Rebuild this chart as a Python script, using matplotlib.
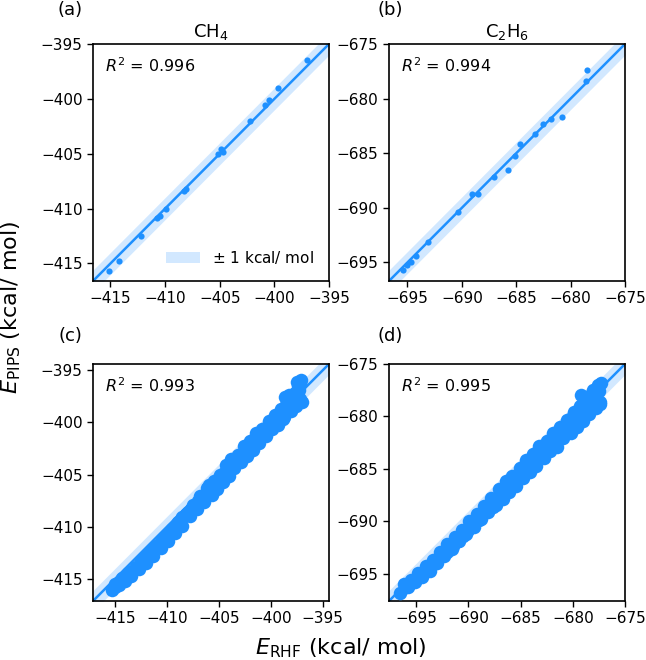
import matplotlib
matplotlib.use("Agg")
import matplotlib.pyplot as plt
import numpy as np
from matplotlib.patches import Patch

# ---------------- data ----------------
# (a) CH4 test set
ch4_rhf = [-415.1, -414.2, -412.2, -410.7, -410.5, -409.9, -408.3, -408.1, -405.2,
           -404.9, -404.7, -402.2, -400.9, -400.5, -399.7, -397.0]
ch4_pips = [-415.7, -414.8, -412.5, -410.9, -410.7, -410.0, -408.4, -408.2, -405.0,
            -404.6, -404.8, -402.0, -400.6, -400.1, -399.0, -396.5]

# (b) C2H6 test set
c2h6_rhf = [-695.4, -695.0, -694.7, -694.2, -693.1, -690.4, -689.1, -688.5, -687.0,
            -685.8, -685.1, -684.7, -683.3, -682.5, -681.8, -680.8, -678.6, -678.5]
c2h6_pips = [-695.7, -695.2, -695.0, -694.4, -693.1, -690.4, -688.7, -688.7, -687.2,
             -686.5, -685.3, -684.2, -683.2, -682.3, -681.9, -681.7, -678.4, -677.4]

# (c) CH4 full trajectory (dense cloud)
ch4_traj_rhf = [-415.3, -415.0, -414.6, -414.3, -414.0, -413.7, -413.4, -413.0, -412.7, -412.4,
                -412.0, -411.7, -411.3, -411.0, -410.6, -410.3, -409.9, -409.6, -409.2, -408.9,
                -408.5, -408.2, -407.8, -407.5, -407.1, -406.8, -406.4, -406.1, -405.7, -405.5,
                -405.2, -404.9, -404.6, -404.3, -404.0, -403.8, -403.5, -403.2, -402.9, -402.6,
                -402.3, -402.0, -401.7, -401.4, -401.1, -400.8, -400.5, -400.2, -399.9, -399.6,
                -399.3, -399.0, -398.7, -398.4, -398.1, -397.8, -397.6, -397.4, -397.2, -397.1,
                -397.3, -397.0, -405.9, -405.0, -404.1, -403.3, -402.4, -401.5, -400.7, -399.8,
                -399.0, -398.2, -397.7, -397.5, -406.8, -407.7, -408.6, -403.0, -400.3, -398.6,
                -415.0, -414.5, -414.0, -413.5, -413.0, -412.5, -412.0, -411.5, -411.0, -410.5,
                -410.0, -409.5, -409.0, -408.5, -408.0, -407.5, -407.0, -406.5, -406.0, -405.5,
                -405.0, -404.5, -404.0, -403.5, -403.0, -402.5, -402.0, -401.5, -401.0, -400.5,
                -400.0, -399.5, -399.0, -398.5, -398.0, -397.5, -397.2, -397.6, -398.2, -398.8]
ch4_traj_pips = [-416.0, -415.5, -415.6, -414.9, -415.2, -414.4, -414.7, -413.9, -414.0, -413.2,
                 -413.5, -412.6, -412.8, -411.9, -412.0, -411.2, -411.4, -410.4, -410.6, -409.5,
                 -409.9, -408.8, -409.0, -407.9, -408.3, -407.2, -407.6, -406.3, -406.9, -405.6,
                 -406.4, -405.0, -405.7, -404.1, -405.1, -403.5, -404.4, -403.1, -403.8, -402.3,
                 -403.2, -401.8, -402.6, -401.0, -402.0, -400.6, -401.3, -399.9, -400.6, -399.3,
                 -400.2, -398.7, -399.5, -398.1, -398.9, -397.3, -398.4, -396.5, -397.8, -395.9,
                 -396.9, -398.0, -406.0, -405.3, -404.6, -403.6, -402.9, -401.9, -401.0, -400.0,
                 -399.3, -398.5, -397.2, -396.1, -407.0, -408.3, -409.2, -403.4, -400.4, -397.6,
                 -415.8, -415.3, -414.8, -414.3, -413.8, -413.3, -412.8, -412.3, -411.8, -411.3,
                 -410.8, -410.2, -409.7, -409.1, -408.6, -408.1, -407.5, -407.0, -406.4, -405.9,
                 -405.4, -404.8, -404.3, -403.8, -403.2, -402.7, -402.2, -401.6, -401.1, -400.5,
                 -400.0, -399.4, -398.9, -398.3, -397.8, -397.2, -396.3, -397.8, -397.4, -399.7]

# (d) C2H6 full trajectory (dense cloud)
c2h6_traj_rhf = [-696.5, -696.2, -695.8, -695.5, -695.1, -694.8, -694.4, -694.1, -693.7, -693.4,
                 -693.0, -692.7, -692.3, -692.0, -691.6, -691.3, -690.9, -690.6, -690.2, -689.9,
                 -689.5, -689.2, -688.8, -688.5, -688.1, -687.8, -687.4, -687.1, -686.7, -686.4,
                 -686.1, -685.8, -685.4, -685.1, -684.8, -684.5, -684.1, -683.8, -683.5, -683.2,
                 -682.8, -682.5, -682.2, -681.9, -681.5, -681.2, -680.9, -680.6, -680.2, -679.9,
                 -679.6, -679.3, -679.0, -678.7, -678.4, -678.1, -677.8, -677.6, -677.4, -677.3,
                 -677.5, -677.4, -686.0, -685.2, -684.4, -683.6, -682.8, -682.0, -681.2, -680.4,
                 -679.6, -678.8, -678.2, -677.9, -687.6, -689.0, -690.5, -683.0, -680.8, -679.2,
                 -696.0, -695.5, -695.0, -694.5, -694.0, -693.5, -693.0, -692.5, -692.0, -691.5,
                 -691.0, -690.5, -690.0, -689.5, -689.0, -688.5, -688.0, -687.5, -687.0, -686.5,
                 -686.0, -685.5, -685.0, -684.5, -684.0, -683.5, -683.0, -682.5, -682.0, -681.5,
                 -681.0, -680.5, -680.0, -679.5, -679.0, -678.5, -678.0, -677.6, -677.8, -678.3,
                 -679.3]
c2h6_traj_pips = [-696.8, -696.0, -696.3, -695.6, -695.8, -694.9, -695.3, -694.3, -694.7, -693.7,
                  -694.0, -692.9, -693.3, -692.2, -692.6, -691.5, -691.9, -690.8, -691.2, -690.0,
                  -690.5, -689.3, -689.8, -688.5, -689.1, -687.8, -688.4, -686.9, -687.9, -686.2,
                  -687.2, -685.7, -686.6, -684.9, -685.9, -684.2, -685.3, -683.6, -684.7, -682.8,
                  -684.0, -682.3, -683.3, -681.6, -682.9, -681.0, -682.1, -680.3, -681.6, -679.6,
                  -681.0, -679.0, -680.4, -678.2, -679.8, -677.5, -679.2, -677.0, -678.6, -676.8,
                  -677.6, -678.8, -686.8, -685.8, -685.1, -684.2, -683.4, -682.6, -681.7, -681.1,
                  -680.2, -679.2, -677.8, -678.1, -688.6, -689.9, -691.4, -683.8, -680.9, -678.0,
                  -696.3, -695.9, -695.5, -695.1, -694.7, -694.2, -693.8, -693.3, -692.9, -692.4,
                  -691.9, -691.3, -690.8, -690.3, -689.8, -689.2, -688.7, -688.2, -687.7, -687.2,
                  -686.7, -686.1, -685.6, -685.0, -684.5, -683.9, -683.4, -682.8, -682.3, -681.8,
                  -681.1, -680.6, -680.0, -679.5, -678.9, -678.3, -677.7, -677.2, -678.7, -679.3,
                  -680.3]

r2_values = ["0.996", "0.994", "0.993", "0.995"]
titles = ["CH$_4$", "C$_2$H$_6$", None, None]
panel_labels = ["(a)", "(b)", "(c)", "(d)"]
limits = [(-416.6, -395.0), (-696.7, -675.0), (-417.1, -394.4), (-697.6, -675.0)]
ticks = [[-415, -410, -405, -400, -395], [-695, -690, -685, -680, -675],
         [-415, -410, -405, -400, -395], [-695, -690, -685, -680, -675]]

series = [(ch4_rhf, ch4_pips, 20), (c2h6_rhf, c2h6_pips, 20),
          (ch4_traj_rhf, ch4_traj_pips, 95), (c2h6_traj_rhf, c2h6_traj_pips, 95)]

# ---------------- plot ----------------
blue = "#1E90FF"
band = "#1E90FF"

fig = plt.figure(figsize=(6.46, 6.6), dpi=100)
positions = [
    [93 / 646, 1 - 281 / 660, 236 / 646, 237 / 660],
    [389 / 646, 1 - 281 / 660, 236 / 646, 237 / 660],
    [93 / 646, 1 - 601 / 660, 236 / 646, 237 / 660],
    [389 / 646, 1 - 601 / 660, 236 / 646, 237 / 660],
]
label_xy = [(70, 10), (390, 10), (70, 336), (390, 336)]

for i in range(4):
    ax = fig.add_axes(positions[i])
    lo, hi = limits[i]
    xs = np.array([lo, hi])
    ax.fill_between(xs, xs - 1, xs + 1, color=band, alpha=0.2, linewidth=0,
                    zorder=1)
    ax.plot(xs, xs, color=blue, lw=1.8, zorder=2)
    x, y, s = series[i]
    ax.scatter(x, y, s=s, color=blue, linewidths=0, zorder=3)
    ax.set_xlim(lo, hi)
    ax.set_ylim(lo, hi)
    ax.set_xticks(ticks[i])
    ax.set_yticks(ticks[i])
    ax.tick_params(labelsize=11, width=1.0, length=4)
    for sp in ax.spines.values():
        sp.set_linewidth(1.2)
    ax.text(0.05, 0.91, r"$R^2$ = " + r2_values[i],
            transform=ax.transAxes, fontsize=11.5, va="center", ha="left")
    if titles[i]:
        ax.set_title(titles[i], fontsize=13, pad=5)
    fig.text(label_xy[i][0] / 646, 1 - label_xy[i][1] / 660, panel_labels[i],
             fontsize=13, ha="center", va="center")
    if i == 0:
        h = Patch(facecolor=band, alpha=0.2, edgecolor="none",
                  label=r"$\pm$ 1 kcal/ mol")
        ax.legend(handles=[h], loc="lower right", frameon=False, fontsize=11,
                  handlelength=2.2, borderaxespad=0.6)

fig.text(11 / 646, 1 - 307 / 660, r"$E_\mathrm{PIPS}$ (kcal/ mol)", rotation=90,
         fontsize=16, ha="center", va="center")
fig.text(341 / 646, 1 - 648 / 660, r"$E_\mathrm{RHF}$ (kcal/ mol)",
         fontsize=16, ha="center", va="center")

fig.savefig("out.png", dpi=100)
